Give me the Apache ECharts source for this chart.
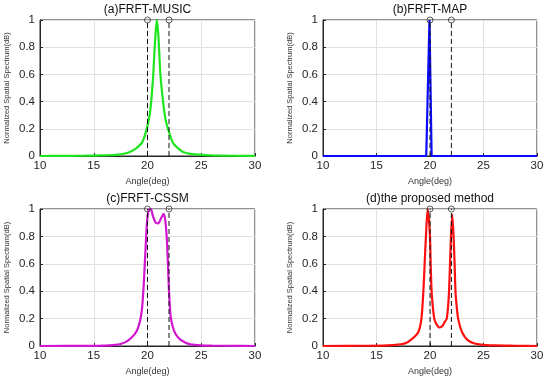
<!DOCTYPE html>
<html><head><meta charset="utf-8">
<script src="https://cdn.jsdelivr.net/npm/echarts@6/dist/echarts.min.js"></script>
<style>html,body{margin:0;padding:0;background:#fff}#c{width:550px;height:381px}</style>
</head><body><div id="c"></div>
<script>
// Tick labels / axes
var xTicks = [10, 15, 20, 25, 30];
var yTicks = [0, 0.2, 0.4, 0.6, 0.8, 1];
var trueDOA = [20, 22];
var titles = ['(a)FRFT-MUSIC', '(b)FRFT-MAP', '(c)FRFT-CSSM', '(d)the proposed method'];
var xName = 'Angle(deg)';
var yName = 'Normalized Spatial Spectrum(dB)';

// (a) FRFT-MUSIC
var musicX = [10, 12, 14, 15, 16, 17, 18, 18.5, 19, 19.5, 19.9, 20.2, 20.4, 20.55, 20.7, 20.86, 21.0, 21.2, 21.45, 21.65, 21.9, 22.35, 22.8, 23.3, 24, 25, 26, 28, 30];
var musicY = [0, 0.001, 0.002, 0.003, 0.005, 0.008, 0.02, 0.035, 0.06, 0.1, 0.19, 0.3, 0.45, 0.62, 0.84, 1.0, 0.9, 0.6, 0.4, 0.28, 0.2, 0.1, 0.06, 0.03, 0.016, 0.008, 0.005, 0.002, 0.001];
// (b) FRFT-MAP
var mapX = [10, 19.65, 19.95, 20.15, 30];
var mapY = [0, 0, 1.0, 0, 0];
// (c) FRFT-CSSM
var cssmX = [10, 14, 16, 17, 17.5, 18, 18.5, 19, 19.3, 19.5, 19.65, 19.8, 19.95, 20.1, 20.3, 20.5, 20.75, 21.0, 21.25, 21.5, 21.65, 21.8, 21.9, 22.0, 22.15, 22.35, 22.6, 23, 23.5, 24, 25, 26, 28, 30];
var cssmY = [0, 0.001, 0.003, 0.008, 0.015, 0.03, 0.06, 0.11, 0.18, 0.28, 0.45, 0.68, 0.9, 0.99, 1.0, 0.95, 0.9, 0.895, 0.93, 0.965, 0.92, 0.78, 0.6, 0.4, 0.22, 0.14, 0.09, 0.05, 0.025, 0.012, 0.005, 0.003, 0.001, 0];
// (d) proposed method
var propX = [10, 14, 16, 17, 17.7, 18.3, 18.9, 19.2, 19.38, 19.5, 19.62, 19.78, 19.9, 20.0, 20.06, 20.15, 20.25, 20.4, 20.6, 20.9, 21.2, 21.4, 21.57, 21.7, 21.78, 21.87, 21.96, 22.08, 22.2, 22.3, 22.38, 22.48, 22.63, 23.0, 23.5, 24.1, 25, 26, 28, 30];
var propY = [0, 0.002, 0.005, 0.01, 0.02, 0.05, 0.1, 0.2, 0.4, 0.6, 0.8, 1.0, 0.92, 0.8, 0.6, 0.4, 0.3, 0.2, 0.16, 0.135, 0.15, 0.18, 0.2, 0.3, 0.4, 0.6, 0.8, 0.96, 0.8, 0.6, 0.4, 0.3, 0.2, 0.1, 0.045, 0.02, 0.008, 0.004, 0.002, 0];

var curves = [[musicX, musicY, '#1ee61e'], [mapX, mapY, '#0a0aff'], [cssmX, cssmY, '#d016d0'], [propX, propY, '#ff1010']];
var font = 'Liberation Sans, Arial, Helvetica, sans-serif';
var grids = [
  {left: 40, top: 20, width: 215, height: 136},
  {left: 323, top: 20, width: 214, height: 136},
  {left: 40, top: 209, width: 215, height: 137},
  {left: 323, top: 209, width: 214, height: 137}
];
function zip(a, b) { return a.map(function (v, i) { return [v, b[i]]; }); }

var option = {animation: false, backgroundColor: '#fff', grid: [], xAxis: [], yAxis: [], series: [], title: []};
grids.forEach(function (g, i) {
  option.grid.push({left: g.left, top: g.top, width: g.width, height: g.height, show: true, borderColor: '#262626', borderWidth: 1, backgroundColor: '#fff'});
  option.xAxis.push({gridIndex: i, type: 'value', min: xTicks[0], max: xTicks[xTicks.length - 1], interval: xTicks[1] - xTicks[0],
    name: xName, nameLocation: 'middle', nameGap: 21, nameTextStyle: {fontSize: 9, color: '#333', fontFamily: font},
    axisLine: {show: true, onZero: false, lineStyle: {color: '#262626'}}, axisTick: {show: true, inside: true, length: 3, lineStyle: {color: '#262626'}},
    axisLabel: {fontSize: 11.5, color: '#262626', fontFamily: font, margin: 4},
    splitLine: {show: true, lineStyle: {color: '#e0e0e0', width: 1}}});
  option.yAxis.push({gridIndex: i, type: 'value', min: yTicks[0], max: yTicks[yTicks.length - 1], interval: yTicks[1] - yTicks[0],
    name: yName, nameLocation: 'middle', nameGap: 29, nameRotate: 90, nameTextStyle: {fontSize: 7.5, color: '#333', fontFamily: font},
    axisLine: {show: true, lineStyle: {color: '#262626'}}, axisTick: {show: true, inside: true, length: 3, lineStyle: {color: '#262626'}},
    axisLabel: {fontSize: 11.5, color: '#262626', fontFamily: font, margin: 5},
    splitLine: {show: true, lineStyle: {color: '#e0e0e0', width: 1}}});
  var cx = g.left + g.width * (trueDOA[0] - xTicks[0]) / (xTicks[xTicks.length - 1] - xTicks[0]);
  option.title.push({text: titles[i], left: cx, top: g.top - 16, textAlign: 'center', padding: 0,
    textStyle: {fontSize: 12, fontWeight: 'normal', color: '#111', fontFamily: font}});
  var c = curves[i];
  option.series.push({type: 'line', xAxisIndex: i, yAxisIndex: i, data: zip(c[0], c[1]), showSymbol: false, smooth: i === 1 ? false : 0.25,
    lineStyle: {color: c[2], width: 2.2}, z: 2, clip: true});
  trueDOA.forEach(function (d) {
    option.series.push({type: 'line', xAxisIndex: i, yAxisIndex: i, data: [[d, yTicks[0]], [d, yTicks[yTicks.length - 1]]], showSymbol: false,
      lineStyle: {color: '#111', width: 1, type: [5, 3]}, z: 3});
  });
  option.series.push({type: 'scatter', xAxisIndex: i, yAxisIndex: i, data: trueDOA.map(function (d) { return [d, yTicks[yTicks.length - 1]]; }),
    symbol: 'circle', symbolSize: 6, itemStyle: {color: 'rgba(255,255,255,0)', borderColor: '#333', borderWidth: 1}, z: 4, clip: false});
});
var chart = echarts.init(document.getElementById('c'), null, {renderer: 'canvas'});
chart.setOption(option);
</script></body></html>
